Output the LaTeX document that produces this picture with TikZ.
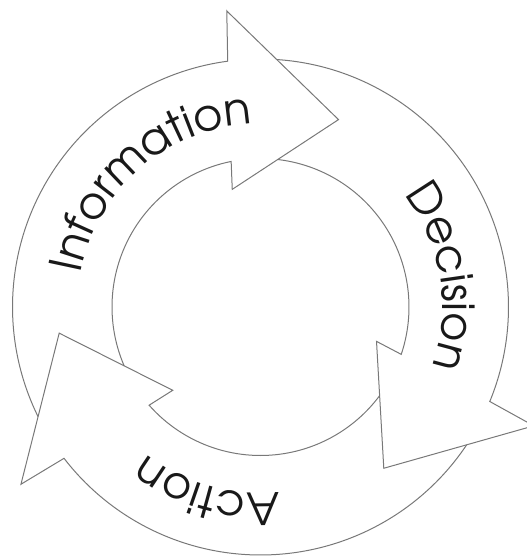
\documentclass[tikz,border=0pt]{standalone}
\usepackage{fontspec}
\setmainfont{texgyreadventor-regular.otf}
\usetikzlibrary{calc,decorations.text}
\definecolor{linegray}{RGB}{120,120,120}
\definecolor{textdark}{RGB}{25,25,25}
\tikzset{
  ringline/.style={draw=linegray, line width=1pt, line join=miter},
  ringlabel/.style={decorate, decoration={text along path, text align=center, text color=textdark, text={#1}}},
}
\begin{document}
\begin{tikzpicture}[x=1pt,y=1pt]
\useasboundingbox (0,0) rectangle (527,-557);
\clip (0,0) rectangle (527,-557);
\coordinate (C) at (260.5,-307);
% three arrows, rotated by 120 degrees each (Information, Decision, Action)
\foreach \t in {120,0,-120}{
  \draw[ringline] ($(C)+(\t+86.24:248)$) arc[start angle=\t+86.24, end angle=\t-22.4, radius=248]
     -- ($(C)+(\t-23.5:298)$) -- ($(C)+(\t-52.6:203)$) -- ($(C)+(\t-16.5:121)$) -- ($(C)+(\t-18.6:148.5)$)
     arc[start angle=\t-18.6, end angle=\t+83.34, radius=148.5];
}
\path[ringlabel={|\fontsize{44.5}{44.5}\selectfont|Information}] ($(C)+(191:183)$) arc[start angle=191, end angle=71, radius=183];
\path[ringlabel={|\fontsize{44.5}{44.5}\selectfont|Decision}] ($(C)+(69.5:182)$) arc[start angle=69.5, end angle=-50.5, radius=182];
\path[ringlabel={|\fontsize{44.5}{44.5}\selectfont|Action}] ($(C)+(-46:186)$) arc[start angle=-46, end angle=-166, radius=186];
\end{tikzpicture}
\end{document}
